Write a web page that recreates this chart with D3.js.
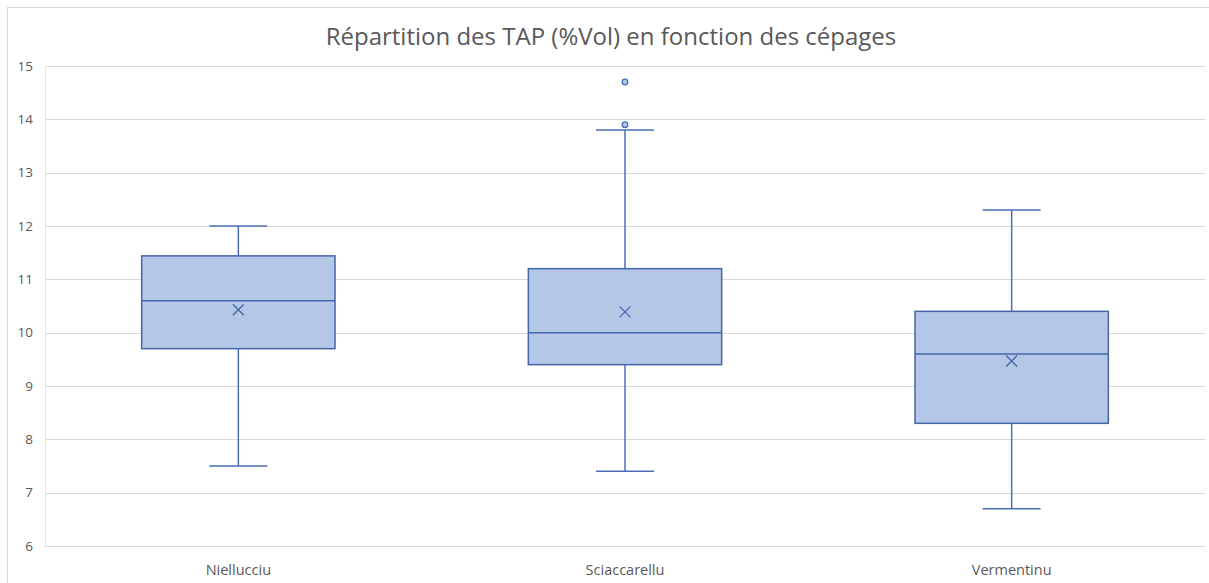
<!DOCTYPE html>
<html><head><meta charset="utf-8">
<script src="https://cdn.jsdelivr.net/npm/d3@7"></script>
<style>body{margin:0;background:#fff;}svg{display:block;}</style>
</head><body>
<script>
const categories = ["Niellucciu", "Sciaccarellu", "Vermentinu"];
const whiskerLow = [7.5, 7.4, 6.7];
const q1 = [9.7, 9.4, 8.3];
const median = [10.6, 10.0, 9.6];
const q3 = [11.44, 11.2, 10.4];
const whiskerHigh = [12.0, 13.8, 12.3];
const mean = [10.43, 10.39, 9.47];
const outliers = [[], [13.9, 14.7], []];
const yTicks = [6, 7, 8, 9, 10, 11, 12, 13, 14, 15];
const title = "Répartition des TAP (%Vol) en fonction des cépages";

const W = 1209, H = 583;
const m = {left: 45, right: 4, top: 66, bottom: 37};
const svg = d3.select("body").append("svg").attr("width", W).attr("height", H);
const font = "'Open Sans', sans-serif";

svg.append("rect").attr("x", 7.5).attr("y", 7.5).attr("width", W).attr("height", H)
  .attr("fill", "#fff").attr("stroke", "#d9d9d9");

const x = d3.scaleBand().domain(categories).range([m.left, W - m.right]);
const y = d3.scaleLinear().domain([6, 15]).range([H - m.bottom, m.top]);

// grid
svg.append("g").selectAll("line").data(yTicks).join("line")
  .attr("x1", m.left).attr("x2", W - m.right)
  .attr("y1", d => Math.round(y(d)) + 0.5).attr("y2", d => Math.round(y(d)) + 0.5)
  .attr("stroke", "#d9d9d9").attr("stroke-width", 1);
svg.append("line").attr("x1", m.left + 0.5).attr("x2", m.left + 0.5)
  .attr("y1", y(15)).attr("y2", y(6)).attr("stroke", "#e6e6e6");

// y axis
const yAxis = svg.append("g").attr("transform", `translate(${m.left - 12},0)`)
  .call(d3.axisLeft(y).tickValues(yTicks).tickSize(0).tickPadding(0));
yAxis.select(".domain").remove();
yAxis.selectAll("text").attr("font-family", font).attr("font-size", 13.5).attr("fill", "#595959");

// x axis
const xAxis = svg.append("g").attr("transform", `translate(0,${H - m.bottom})`)
  .call(d3.axisBottom(x).tickSize(0).tickPadding(19));
xAxis.select(".domain").remove();
xAxis.selectAll("text").attr("font-family", font).attr("font-size", 14.5).attr("fill", "#595959");

// title
svg.append("text").attr("x", 611).attr("y", 45).attr("text-anchor", "middle")
  .attr("font-family", font).attr("font-size", 24).attr("fill", "#595959").text(title);

const stroke = "#4a6fb5";
const boxW = x.bandwidth() * 0.5;
const capW = 58;
const g = svg.append("g");
categories.forEach((c, i) => {
  const cx = x(c) + x.bandwidth() / 2;
  // whiskers
  g.append("line").attr("x1", cx).attr("x2", cx).attr("y1", y(whiskerHigh[i])).attr("y2", y(q3[i]))
    .attr("stroke", stroke).attr("stroke-width", 1.5);
  g.append("line").attr("x1", cx).attr("x2", cx).attr("y1", y(q1[i])).attr("y2", y(whiskerLow[i]))
    .attr("stroke", stroke).attr("stroke-width", 1.5);
  [whiskerHigh[i], whiskerLow[i]].forEach(v => {
    g.append("line").attr("x1", cx - capW / 2).attr("x2", cx + capW / 2).attr("y1", y(v)).attr("y2", y(v))
      .attr("stroke", stroke).attr("stroke-width", 1.5);
  });
  // box
  g.append("rect").attr("x", cx - boxW / 2).attr("y", y(q3[i])).attr("width", boxW)
    .attr("height", y(q1[i]) - y(q3[i])).attr("fill", "#b4c7e7").attr("stroke", "#4466a8").attr("stroke-width", 1.5);
  g.append("line").attr("x1", cx - boxW / 2).attr("x2", cx + boxW / 2).attr("y1", y(median[i])).attr("y2", y(median[i]))
    .attr("stroke", "#4466a8").attr("stroke-width", 1.5);
  // mean
  const my = y(mean[i]), s = 5.5;
  g.append("path").attr("d", `M${cx - s},${my - s}L${cx + s},${my + s}M${cx - s},${my + s}L${cx + s},${my - s}`)
    .attr("stroke", "#4466a8").attr("stroke-width", 1.3).attr("fill", "none");
  // outliers
  outliers[i].forEach(v => {
    g.append("circle").attr("cx", cx).attr("cy", y(v)).attr("r", 2.8)
      .attr("fill", "#b4c7e7").attr("stroke", stroke).attr("stroke-width", 1.3);
  });
});
</script>
</body></html>
